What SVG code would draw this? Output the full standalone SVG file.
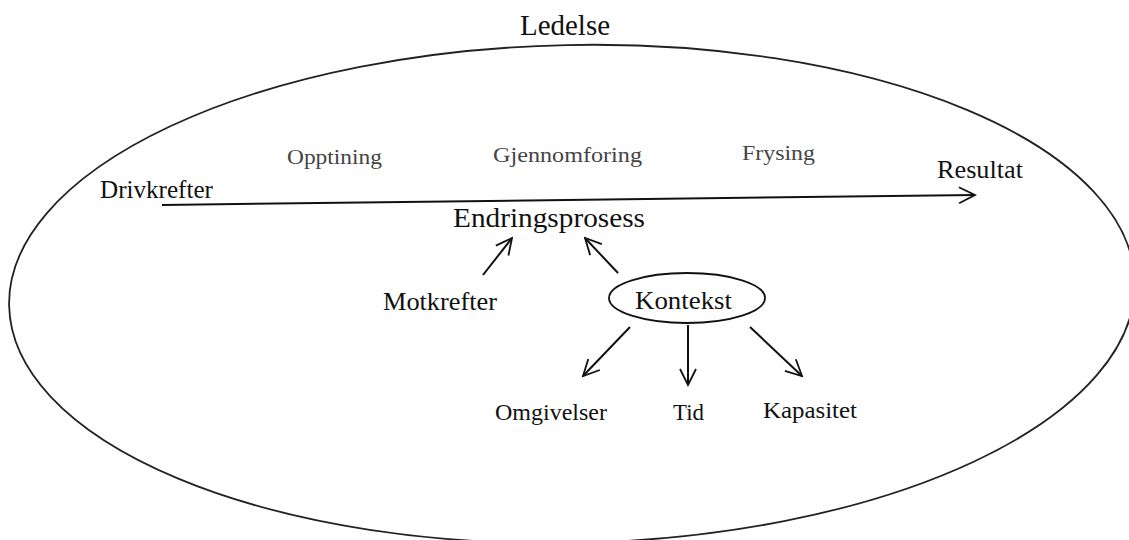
<svg xmlns="http://www.w3.org/2000/svg" width="1129" height="540" viewBox="0 0 1129 540">
<style>
text{font-family:"Liberation Serif","Times New Roman",serif;fill:#111}
.lt{fill:#444}
.ln{stroke:#111;stroke-width:2;fill:none}
</style>
<defs>
<marker id="ah" viewBox="0 0 20 20" refX="18" refY="10" markerWidth="20" markerHeight="20" markerUnits="userSpaceOnUse" orient="auto">
<path d="M2,2 L18,10 L2,18" fill="none" stroke="#111" stroke-width="1.8"/>
</marker>
</defs>
<rect width="1129" height="540" fill="#fff"/>
<g id="ledelse">
<ellipse cx="572" cy="294" rx="563" ry="249" transform="rotate(-1.2 572 294)" fill="none" stroke="#222" stroke-width="1.8"/>
<text x="520" y="35" font-size="29" textLength="90" lengthAdjust="spacingAndGlyphs">Ledelse</text>
</g>
<g id="drivkrefter"><text x="100" y="198" font-size="25" textLength="113" lengthAdjust="spacingAndGlyphs">Drivkrefter</text></g>
<g id="opptining"><text class="lt" x="287" y="164" font-size="22" textLength="95" lengthAdjust="spacingAndGlyphs">Opptining</text></g>
<g id="gjennomforing"><text class="lt" x="493" y="162" font-size="22" textLength="149" lengthAdjust="spacingAndGlyphs">Gjennomforing</text></g>
<g id="frysing"><text class="lt" x="742" y="160" font-size="22" textLength="73" lengthAdjust="spacingAndGlyphs">Frysing</text></g>
<g id="resultat"><text x="937" y="178" font-size="25" textLength="86" lengthAdjust="spacingAndGlyphs">Resultat</text></g>
<g id="endringsprosess"><text x="453" y="227" font-size="28" textLength="192" lengthAdjust="spacingAndGlyphs">Endringsprosess</text></g>
<g id="motkrefter"><text x="383" y="310" font-size="26" textLength="114" lengthAdjust="spacingAndGlyphs">Motkrefter</text></g>
<g id="kontekst">
<ellipse cx="687" cy="298" rx="78" ry="25" fill="none" stroke="#111" stroke-width="1.8"/>
<text x="635" y="309" font-size="26" textLength="97" lengthAdjust="spacingAndGlyphs">Kontekst</text>
</g>
<g id="omgivelser"><text x="495" y="420" font-size="24" textLength="112" lengthAdjust="spacingAndGlyphs">Omgivelser</text></g>
<g id="tid"><text x="673" y="420" font-size="24" textLength="31" lengthAdjust="spacingAndGlyphs">Tid</text></g>
<g id="kapasitet"><text x="763" y="418" font-size="24" textLength="94" lengthAdjust="spacingAndGlyphs">Kapasitet</text></g>
<g id="connectors">
<line class="ln" x1="162" y1="205" x2="975" y2="195" marker-end="url(#ah)"/>
<line class="ln" x1="483" y1="275" x2="512" y2="238" marker-end="url(#ah)"/>
<line class="ln" x1="618" y1="273" x2="585" y2="238" marker-end="url(#ah)"/>
<line class="ln" x1="630" y1="327" x2="583" y2="376" marker-end="url(#ah)"/>
<line class="ln" x1="688" y1="325" x2="688" y2="385" marker-end="url(#ah)"/>
<line class="ln" x1="750" y1="327" x2="802" y2="376" marker-end="url(#ah)"/>
</g>
</svg>
